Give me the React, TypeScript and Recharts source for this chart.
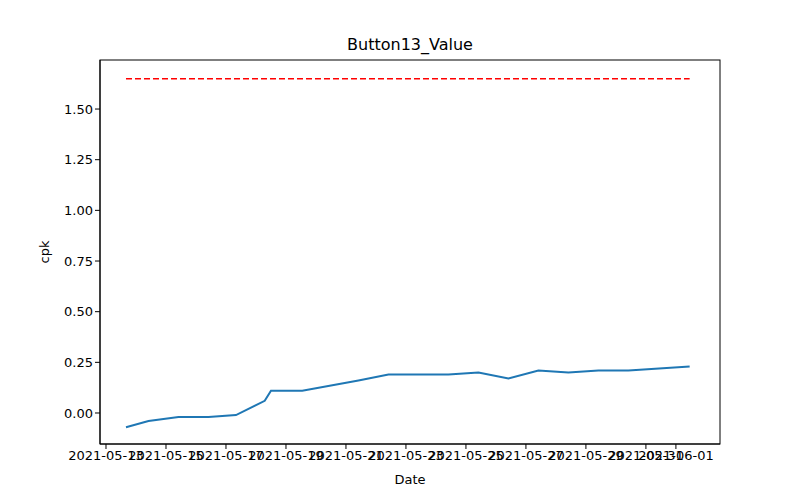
import React from "react";
import { LineChart, Line, XAxis, YAxis, Label } from "recharts";

const dates = [
  "2021-05-13T16:00", "2021-05-14T10:00", "2021-05-15T10:00", "2021-05-16T10:00",
  "2021-05-17T08:00", "2021-05-18T07:00", "2021-05-18T12:00", "2021-05-19T13:00",
  "2021-05-21T10:00", "2021-05-22T10:00", "2021-05-24T10:00", "2021-05-25T10:00",
  "2021-05-26T10:00", "2021-05-27T10:00", "2021-05-28T10:00", "2021-05-29T10:00",
  "2021-05-30T10:00", "2021-06-01T11:00",
];
const cpk = [
  -0.07, -0.04, -0.02, -0.02, -0.01, 0.06, 0.11, 0.11, 0.16, 0.19, 0.19, 0.2,
  0.17, 0.21, 0.2, 0.21, 0.21, 0.23,
];
const limit = 1.65;
const tickDates = [
  "2021-05-13", "2021-05-15", "2021-05-17", "2021-05-19", "2021-05-21",
  "2021-05-23", "2021-05-25", "2021-05-27", "2021-05-29", "2021-05-31", "2021-06-01",
];
const yTicks = [0, 0.25, 0.5, 0.75, 1.0, 1.25, 1.5];

const DAY = 86400000;
const base = Date.parse("2021-05-13T00:00");
const toDay = (s: string) => (Date.parse(s.length === 10 ? s + "T00:00" : s) - base) / DAY;

const data = dates.map((d, i) => ({ x: toDay(d), cpk: cpk[i], limit }));
const xTicks = tickDates.map(toDay);

const font = "DejaVu Sans, sans-serif";
const tickStyle = { fill: "#000", fontSize: 13, fontFamily: font };

export default function App() {
  return (
    <div style={{ position: "absolute", left: 0, top: 0, width: 800, height: 500, background: "#fff" }}>
      <div style={{ position: "absolute", top: 35, width: 820, textAlign: "center", fontFamily: font, fontSize: 16 }}>
        Button13_Value
      </div>
      <LineChart width={800} height={500} data={data} margin={{ top: 60, right: 80, bottom: 0, left: 0 }}>
        <XAxis
          type="number"
          dataKey="x"
          domain={[-0.2, 20.47]}
          ticks={xTicks}
          tickFormatter={(v: number) => tickDates[xTicks.indexOf(v)] ?? ""}
          tick={tickStyle}
          stroke="#000"
          tickSize={5}
          height={56}
          interval={0}
          allowDataOverflow
        >
          <Label value="Date" position="insideBottom" offset={16} style={{ fill: "#000", fontSize: 13, fontFamily: font }} />
        </XAxis>
        <YAxis
          type="number"
          domain={[-0.153, 1.742]}
          ticks={yTicks}
          tickFormatter={(v: number) => v.toFixed(2)}
          tick={tickStyle}
          stroke="#000"
          tickSize={5}
          width={100}
          allowDataOverflow
        >
          <Label value="cpk" angle={-90} position="insideLeft" offset={44} style={{ fill: "#000", fontSize: 13, fontFamily: font, textAnchor: "middle" }} />
        </YAxis>
        <Line dataKey="limit" stroke="#ff0000" strokeWidth={1.5} strokeDasharray="6 3" dot={false} isAnimationActive={false} />
        <Line dataKey="cpk" stroke="#1f77b4" strokeWidth={2} dot={false} isAnimationActive={false} type="linear" />
        <svg>
          <rect x={100} y={60} width={620} height={384} fill="none" stroke="#000" />
        </svg>
      </LineChart>
    </div>
  );
}
